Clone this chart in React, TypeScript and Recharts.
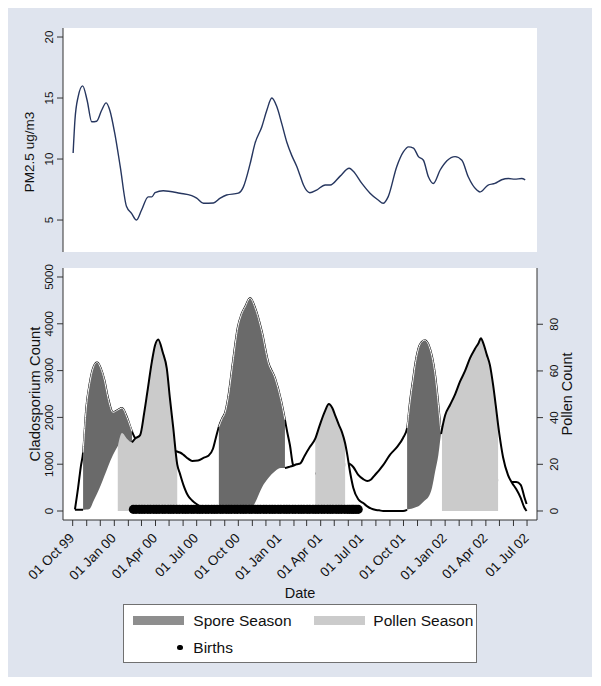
import React from "react";
import { ComposedChart, LineChart, Line, Area, Scatter, XAxis, YAxis, CartesianGrid } from "recharts";

const FONT = '"Liberation Sans", Arial, Helvetica, sans-serif';
const BG = "#dfe4ee";
const AXIS = "#333";

// x values are days since 01 Oct 1999
const pmDays = [
  1, 5, 12, 22, 32, 42, 53, 64, 74, 82,
  93, 105, 119, 130, 141, 152, 167, 175, 182, 200,
  237, 263, 274, 289, 311, 326, 340, 366, 377, 392,
  403, 418, 429, 440, 451, 462, 473, 484, 495, 502,
  510, 524, 539, 558, 569, 591, 611, 620, 639, 657,
  675, 686, 697, 716, 731, 742, 753, 764, 775, 786,
  797, 812, 827, 845, 860, 874, 893, 900, 918, 933,
  948, 963, 977, 992, 1000,
];
const pmValues = [
  10.5, 13.2, 15.1, 16.0, 14.8, 13.05, 13.1, 14.0, 14.6, 14.0,
  12.1, 9.4, 6.1, 5.55, 5.0, 5.8, 6.9, 6.9, 7.24, 7.4,
  7.2, 7.0, 6.8, 6.37, 6.4, 6.8, 7.05, 7.2, 7.7, 9.6,
  11.3, 12.65, 14.0, 15.0, 14.3, 12.9, 11.4, 10.3, 9.4, 8.7,
  7.87, 7.24, 7.46, 7.87, 7.87, 8.6, 9.24, 9.0, 8.0, 7.2,
  6.64, 6.37, 6.9, 9.37, 10.6, 11.0, 10.9, 10.2, 9.9, 8.55,
  8.0, 9.1, 9.86, 10.2, 9.9, 8.55, 7.46, 7.3, 7.87, 8.0,
  8.3, 8.4, 8.35, 8.4, 8.3,
];

const countDays = [
  5, 12, 18, 23, 30, 38, 45, 54, 62, 70,
  78, 89, 100, 109, 120, 131, 138, 149, 158, 165,
  175, 182, 189, 199, 208, 215, 222, 231, 237, 245,
  255, 264, 277, 290, 300, 310, 316, 323, 330, 337,
  344, 354, 365, 373, 381, 392, 403, 418, 432, 447,
  460, 469, 474, 480, 487, 495, 503, 512, 524, 536,
  546, 558, 566, 574, 580, 588, 595, 602, 606, 613,
  620, 631, 642, 651, 660, 668, 677, 686, 701, 717,
  730, 739, 745, 752, 758, 764, 770, 778, 786, 794,
  801, 808, 814, 816, 823, 834, 845, 856, 867, 878,
  889, 897, 902, 908, 915, 922, 929, 935, 940, 945,
  951, 962, 971, 980, 990, 998, 1003,
];
const sporeCounts = [
  35, 500, 950, 1250, 2200, 2750, 3050, 3180, 3050, 2800,
  2420, 2110, 2160, 2200, 2000, 1700, 1560, 1500, 1450, 1420,
  1390, 1370, 1350, 1330, 1310, 1300, 1290, 1270, 1250, 1200,
  1120, 1070, 1080, 1140, 1180, 1330, 1550, 1800, 1970, 2110,
  2450, 3180, 3930, 4200, 4360, 4550, 4340, 3830, 3180, 2840,
  2380, 1950, 1690, 1410, 980, 880, 850, 830, 810, 800,
  800, 810, 820, 830, 840, 860, 880, 980, 1020, 1000,
  940, 770, 680, 640, 680, 770, 870, 980, 1200, 1370,
  1560, 1770, 2300, 2800, 3200, 3470, 3600, 3650, 3560, 3300,
  2900, 2270, 1650, 1560, 1400, 1200, 1050, 950, 880, 820,
  780, 760, 740, 720, 700, 690, 680, 670, 660, 650,
  640, 630, 620, 620, 560, 300, 150,
];
const pollenCounts = [
  0.5, 0.5, 0.5, 0.5, 0.6, 1, 3.8, 7.5, 11, 15,
  19, 24, 28, 33.4, 31, 29.4, 31, 32.5, 42, 51,
  64, 71, 73.5, 68, 61, 48, 36, 20, 16, 11,
  6.5, 4.5, 2.5, 0.5, 0, 0, 0, 0, 0, 0,
  0, 0, 0, 0, 0, 0, 3.5, 10, 14, 17,
  18.4, 18.4, 18.6, 19, 19.4, 20, 20.4, 23.5, 27.4, 31,
  36.8, 43, 45.8, 44, 41, 37, 33.8, 29, 25, 16.6,
  10, 5, 3.4, 2, 1, 0.5, 0.3, 0, 0, 0,
  0, 0.5, 0.8, 1.2, 1.6, 2, 3, 4.5, 6, 10,
  17, 24, 33, 35, 41, 45.5, 50, 55.5, 60, 65.5,
  69.5, 72, 74, 71.5, 67, 62.5, 54, 45, 37, 30,
  23, 15.4, 12, 9.4, 5.6, 1.5, 0,
];

const sporeSeasons = [[23, 131], [323, 469], [739, 814]];
const pollenSeasons = [[100, 231], [536, 602], [816, 940]];

const birthDays = [
  134, 140, 147, 153, 159, 166, 172, 179, 185, 191, 198, 204, 211, 217, 223, 230,
  236, 243, 249, 255, 262, 268, 275, 281, 287, 294, 300, 307, 313, 319, 326, 332,
  339, 345, 351, 358, 364, 371, 377, 383, 390, 396, 403, 409, 415, 422, 428, 435,
  441, 447, 454, 460, 467, 473, 479, 486, 492, 499, 505, 511, 518, 524, 531, 537,
  543, 550, 556, 563, 569, 575, 582, 588, 594, 601, 607, 612, 617, 621, 626, 631,
];

const monthTicks = [
  0, 31, 61, 92, 123, 152, 183, 213, 244, 274, 305, 336, 366, 397, 427, 458, 489,
  517, 548, 578, 609, 639, 670, 701, 731, 762, 792, 823, 854, 882, 913, 943, 974, 1004,
];
const quarterDays = [0, 92, 183, 274, 366, 458, 548, 639, 731, 823, 913, 1004];
const quarterLabels = [
  "01 Oct 99", "01 Jan 00", "01 Apr 00", "01 Jul 00", "01 Oct 00", "01 Jan 01",
  "01 Apr 01", "01 Jul 01", "01 Oct 01", "01 Jan 02", "01 Apr 02", "01 Jul 02",
];
const pmTicks = [5, 10, 15, 20];
const sporeTicks = [0, 1000, 2000, 3000, 4000, 5000];
const pollenTicks = [0, 20, 40, 60, 80];

const X_DOMAIN = [-21.4, 1026];

const inSeason = (d: number, seasons: number[][], strict = false) =>
  seasons.some(([a, b]) => (strict ? d > a && d < b : d >= a && d <= b));

const pmData = pmDays.map((d, i) => ({ day: d, pm: pmValues[i] }));

const countData = countDays.map((d, i) => ({
  day: d,
  spore: sporeCounts[i],
  sporeSeason: inSeason(d, sporeSeasons) ? sporeCounts[i] : null,
  pollenSeason: inSeason(d, pollenSeasons) ? pollenCounts[i] : null,
  pollenOff: inSeason(d, pollenSeasons, true) ? null : pollenCounts[i],
  pollenLine: inSeason(d, sporeSeasons, true) ? null : pollenCounts[i],
}));

const birthData = birthDays.map((d) => ({ day: d, y: 35 }));

const LeftTick = (props: any) => {
  const { x, y, payload } = props;
  const bx = x - 2;
  return (
    <text x={bx} y={y} transform={`rotate(-90 ${bx} ${y})`} textAnchor="middle" fontSize={11.5} fontFamily={FONT} fill="#111">
      {payload.value}
    </text>
  );
};

const RightTick = (props: any) => {
  const { x, y, payload } = props;
  const bx = x + 13;
  return (
    <text x={bx} y={y} transform={`rotate(-90 ${bx} ${y})`} textAnchor="middle" fontSize={11.5} fontFamily={FONT} fill="#111">
      {payload.value}
    </text>
  );
};

const DateTick = (props: any) => {
  const { x, y, payload } = props;
  const idx = quarterDays.indexOf(payload.value);
  if (idx < 0) return <g />;
  const ax = x + 2.5;
  const ay = y + 11;
  return (
    <text x={ax} y={ay} transform={`rotate(-45 ${ax} ${ay})`} textAnchor="end" fontSize={13.5} fontFamily={FONT} fill="#111">
      {quarterLabels[idx]}
    </text>
  );
};

const vTitle = (text: string, x: number, y: number, size: number) => () =>
  (
    <text x={x} y={y} transform={`rotate(-90 ${x} ${y})`} textAnchor="middle" fontSize={size} fontFamily={FONT} fill="#111">
      {text}
    </text>
  );

const swatch = (left: number, color: string) => (
  <div style={{ position: "absolute", left, top: 10.4, width: 51, height: 9.5, background: color }} />
);

const legendText = (left: number, top: number, text: string) => (
  <span style={{ position: "absolute", left, top, fontSize: 15.5, lineHeight: "18px", whiteSpace: "nowrap", color: "#111" }}>
    {text}
  </span>
);

export default function App() {
  return (
    <div style={{ position: "relative", width: 584, height: 669, background: BG, fontFamily: FONT }}>
      <div style={{ position: "absolute", left: 0, top: 0 }}>
        <LineChart width={584} height={250} data={pmData} margin={{ top: 20, right: 55, bottom: 6, left: 0 }}>
          <CartesianGrid horizontal={false} vertical={false} fill="#fff" />
          <XAxis dataKey="day" type="number" domain={X_DOMAIN} allowDataOverflow hide />
          <YAxis
            width={55}
            type="number"
            domain={[2.38, 20.74]}
            allowDataOverflow
            ticks={pmTicks}
            interval={0}
            tickSize={6}
            axisLine={{ stroke: AXIS }}
            tickLine={{ stroke: AXIS }}
            tick={(p: any) => <LeftTick {...p} />}
            label={{ content: vTitle("PM2.5 ug/m3", 25.5, 144, 13.5) }}
          />
          <Line
            dataKey="pm"
            type="monotone"
            stroke="#26365f"
            strokeWidth={1.4}
            dot={false}
            activeDot={false}
            isAnimationActive={false}
          />
        </LineChart>
      </div>

      <div style={{ position: "absolute", left: 0, top: 250 }}>
        <ComposedChart width={584} height={342} data={countData} margin={{ top: 10, right: 0, bottom: 0, left: 0 }}>
          <CartesianGrid horizontal={false} vertical={false} fill="#fff" />
          <XAxis
            dataKey="day"
            type="number"
            domain={X_DOMAIN}
            allowDataOverflow
            ticks={monthTicks}
            interval={0}
            height={80}
            tickSize={6}
            axisLine={{ stroke: AXIS }}
            tickLine={{ stroke: AXIS }}
            tick={(p: any) => <DateTick {...p} />}
            label={{
              content: () => (
                <text x={292} y={340} textAnchor="middle" fontSize={14.5} fontFamily={FONT} fill="#111">
                  Date
                </text>
              ),
            }}
          />
          <YAxis
            yAxisId="left"
            width={55}
            type="number"
            domain={[-192, 5192]}
            allowDataOverflow
            ticks={sporeTicks}
            interval={0}
            tickSize={6}
            axisLine={{ stroke: AXIS }}
            tickLine={{ stroke: AXIS }}
            tick={(p: any) => <LeftTick {...p} />}
            label={{ content: vTitle("Cladosporium Count", 31.8, 136, 14.8) }}
          />
          <YAxis
            yAxisId="right"
            orientation="right"
            width={55}
            type="number"
            domain={[-3.86, 104.1]}
            allowDataOverflow
            ticks={pollenTicks}
            interval={0}
            tickSize={6}
            axisLine={{ stroke: AXIS }}
            tickLine={{ stroke: AXIS }}
            tick={(p: any) => <RightTick {...p} />}
            label={{ content: vTitle("Pollen Count", 563.7, 136, 14.5) }}
          />
          <Line
            yAxisId="left"
            dataKey="spore"
            type="monotone"
            stroke="#000"
            strokeWidth={2}
            dot={false}
            activeDot={false}
            isAnimationActive={false}
            zIndex={101}
          />
          <Area
            yAxisId="left"
            dataKey="sporeSeason"
            type="monotone"
            fill="#6a6a6a"
            fillOpacity={1}
            stroke="#fff"
            strokeWidth={1}
            dot={false}
            activeDot={false}
            isAnimationActive={false}
            zIndex={102}
          />
          <Area
            yAxisId="right"
            dataKey="pollenOff"
            type="monotone"
            fill="#fff"
            fillOpacity={1}
            stroke="none"
            dot={false}
            activeDot={false}
            isAnimationActive={false}
            zIndex={103}
          />
          <Area
            yAxisId="right"
            dataKey="pollenSeason"
            type="monotone"
            fill="#cbcbcb"
            fillOpacity={1}
            stroke="none"
            dot={false}
            activeDot={false}
            isAnimationActive={false}
            zIndex={104}
          />
          <Line
            yAxisId="right"
            dataKey="pollenLine"
            type="monotone"
            stroke="#000"
            strokeWidth={2}
            dot={false}
            activeDot={false}
            isAnimationActive={false}
            zIndex={105}
          />
          <Scatter yAxisId="left" data={birthData} dataKey="y" fill="#000" isAnimationActive={false} zIndex={106} />
        </ComposedChart>
      </div>

      <div
        style={{
          position: "absolute",
          left: 115.3,
          top: 596.3,
          width: 353.4,
          height: 59,
          boxSizing: "border-box",
          background: "#fff",
          border: "1px solid #707070",
        }}
      >
        {swatch(8.4, "#8e8e8e")}
        {legendText(69, 6.8, "Spore Season")}
        {swatch(189.7, "#cbcbcb")}
        {legendText(249, 6.8, "Pollen Season")}
        <div style={{ position: "absolute", left: 53, top: 39.3, width: 5.4, height: 5.4, borderRadius: "50%", background: "#000" }} />
        {legendText(69, 33.8, "Births")}
      </div>
    </div>
  );
}
